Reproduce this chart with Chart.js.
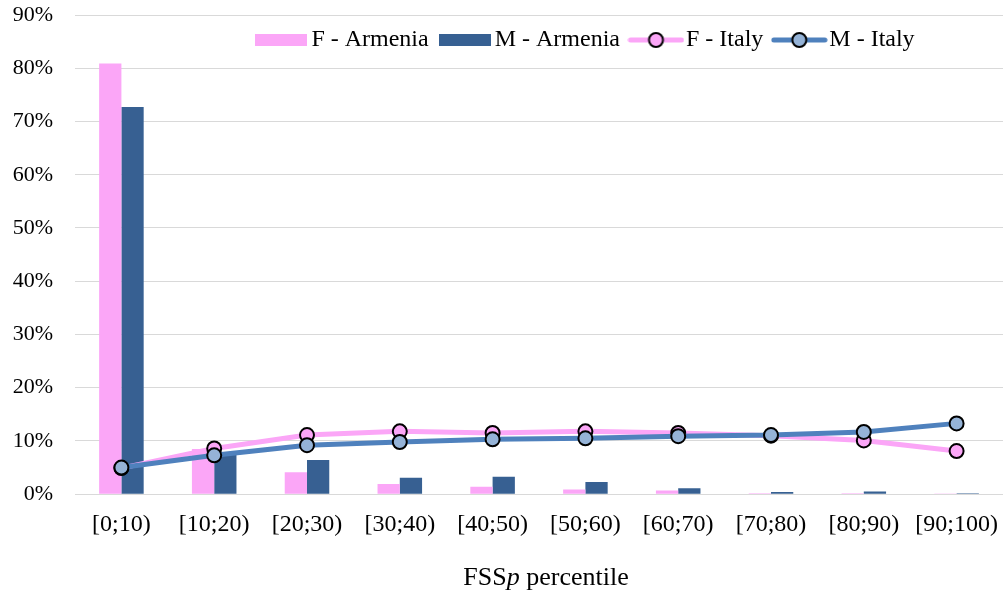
<!DOCTYPE html>
<html lang="en">
<head>
    <meta charset="UTF-8">
    <title>FSSp percentile distribution</title>
    <script src="https://cdn.jsdelivr.net/npm/chart.js"></script>
    <style>
        html, body { margin: 0; background: #fff; overflow: hidden; }
        #wrap { width: 1003px; height: 597px; }
    </style>
</head>
<body>
    <div id="wrap"><canvas id="chart"></canvas></div>
    <script>
        const categories = ['[0;10)', '[10;20)', '[20;30)', '[30;40)', '[40;50)', '[50;60)', '[60;70)', '[70;80)', '[80;90)', '[90;100)'];
        const fArmenia = [80.9, 8.5, 4.1, 1.9, 1.4, 0.9, 0.7, 0.2, 0.2, 0.05];
        const mArmenia = [72.7, 7.8, 6.4, 3.1, 3.3, 2.3, 1.1, 0.4, 0.5, 0.2];
        const fItaly = [4.9, 8.6, 11.1, 11.8, 11.5, 11.8, 11.5, 11.0, 10.1, 8.1];
        const mItaly = [5.0, 7.3, 9.2, 9.8, 10.3, 10.5, 10.9, 11.1, 11.7, 13.3];
        const yTicks = [0, 10, 20, 30, 40, 50, 60, 70, 80, 90];

        const pink = '#fba6f7';
        const darkBlue = '#376092';
        const lineBlue = '#4f81bd';
        const markerBlue = '#95b3d7';
        const font = 'Liberation Serif';

        // legend icons drawn on small canvases
        function boxIcon(color) {
            const c = document.createElement('canvas');
            c.width = 52; c.height = 12;
            const g = c.getContext('2d');
            g.fillStyle = color;
            g.fillRect(0, 0, 52, 12);
            return c;
        }
        function lineIcon(lineColor, fill) {
            const c = document.createElement('canvas');
            c.width = 57; c.height = 20;
            const g = c.getContext('2d');
            g.strokeStyle = lineColor;
            g.lineWidth = 5;
            g.lineCap = 'round';
            g.beginPath(); g.moveTo(3, 10); g.lineTo(54, 10); g.stroke();
            g.beginPath(); g.arc(28.5, 10, 7, 0, Math.PI * 2);
            g.fillStyle = fill; g.fill();
            g.lineWidth = 2; g.strokeStyle = '#000'; g.stroke();
            return c;
        }
        const icons = [boxIcon(pink), boxIcon(darkBlue), lineIcon(pink, pink), lineIcon(lineBlue, markerBlue)];

        const axisTitle = {
            id: 'axisTitle',
            afterDraw(chart) {
                const ctx = chart.ctx;
                const area = chart.chartArea;
                const parts = [['FSS', 'normal'], ['p', 'italic'], [' percentile', 'normal']];
                ctx.save();
                ctx.fillStyle = '#000';
                ctx.textBaseline = 'middle';
                let total = 0;
                parts.forEach(p => {
                    ctx.font = p[1] + ' 26px "' + font + '"';
                    total += ctx.measureText(p[0]).width;
                });
                let x = (area.left + area.right) / 2 + 7 - total / 2;
                parts.forEach(p => {
                    ctx.font = p[1] + ' 26px "' + font + '"';
                    ctx.fillText(p[0], x, 578);
                    x += ctx.measureText(p[0]).width;
                });
                ctx.restore();
            }
        };

        // legend sits inside the plot area, laid out in one row
        const legendRow = {
            id: 'legendRow',
            afterInit(chart) {
                chart.legend.isHorizontal = () => true;
            },
            afterLayout(chart) {
                chart.legend.left += 125;
                chart.legend.right += 125;
                chart.legend.top -= 5;
            }
        };

        new Chart(document.getElementById('chart'), {
            type: 'bar',
            data: {
                labels: categories,
                datasets: [
                    { type: 'bar', label: 'F - Armenia', data: fArmenia, backgroundColor: pink, order: 2 },
                    { type: 'bar', label: 'M - Armenia', data: mArmenia, backgroundColor: darkBlue, order: 2 },
                    {
                        type: 'line', label: 'F - Italy', data: fItaly, borderColor: pink, borderWidth: 5,
                        pointRadius: 7, pointBackgroundColor: pink, pointBorderColor: '#000', pointBorderWidth: 2,
                        tension: 0, order: 1
                    },
                    {
                        type: 'line', label: 'M - Italy', data: mItaly, borderColor: lineBlue, borderWidth: 5,
                        pointRadius: 7, pointBackgroundColor: markerBlue, pointBorderColor: '#000', pointBorderWidth: 2,
                        tension: 0, order: 0
                    }
                ]
            },
            options: {
                responsive: true,
                maintainAspectRatio: false,
                animation: false,
                categoryPercentage: 0.48,
                barPercentage: 1,
                layout: { autoPadding: false, padding: { left: 0, right: 0, top: 15, bottom: 50 } },
                plugins: {
                    tooltip: { enabled: false },
                    legend: {
                        position: 'chartArea',
                        labels: {
                            font: { family: font, size: 24 },
                            color: '#000',
                            usePointStyle: true,
                            pointStyleWidth: 36,
                            padding: 18,
                            generateLabels(chart) {
                                return chart.data.datasets.map((ds, i) => ({
                                    text: ds.label,
                                    pointStyle: icons[i],
                                    fillStyle: 'transparent',
                                    strokeStyle: 'transparent',
                                    lineWidth: 0,
                                    fontColor: '#000',
                                    datasetIndex: i
                                }));
                            }
                        }
                    }
                },
                scales: {
                    x: {
                        grid: { display: false },
                        border: { color: '#d9d9d9', width: 1 },
                        afterFit(axis) { axis.paddingLeft = 0; axis.paddingRight = 0; },
                        ticks: { font: { family: font, size: 24 }, color: '#000', padding: 8, maxRotation: 0 }
                    },
                    y: {
                        min: 0,
                        max: 90,
                        afterBuildTicks(axis) { axis.ticks = yTicks.map(v => ({ value: v })); },
                        afterFit(axis) { axis.width = 75; axis.paddingTop = 0; axis.paddingBottom = 0; },
                        grid: { color: '#d9d9d9', drawTicks: false },
                        border: { display: false },
                        ticks: {
                            font: { family: font, size: 22 },
                            color: '#000',
                            padding: 22,
                            callback: v => v + '%'
                        }
                    }
                }
            },
            plugins: [axisTitle, legendRow]
        });
    </script>
</body>
</html>
